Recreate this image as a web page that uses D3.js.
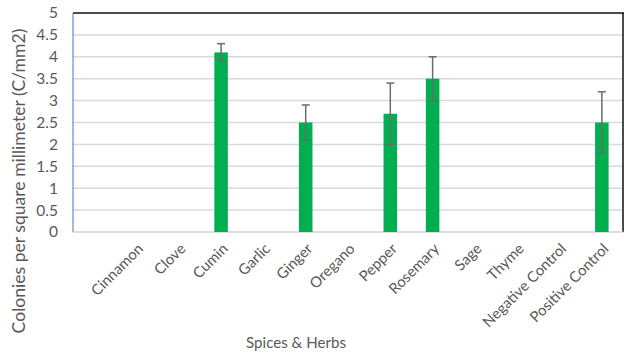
<!DOCTYPE html>
<html>
<head>
<meta charset="utf-8">
<script src="https://cdn.jsdelivr.net/npm/d3@7"></script>
<style>
  html, body { margin: 0; padding: 0; background: #fff; }
  svg { display: block; font-family: Lato, "Open Sans", sans-serif; }
</style>
</head>
<body>
<svg id="chart" width="624" height="355"></svg>
<script>
// Colony counts per spice/herb treatment
const categories = ["Cinnamon", "Clove", "Cumin", "Garlic", "Ginger", "Oregano",
  "Pepper", "Rosemary", "Sage", "Thyme", "Negative Control", "Positive Control"];
const values = [0, 0, 4.1, 0, 2.5, 0, 2.7, 3.5, 0, 0, 0, 2.5];
const errors = [0, 0, 0.2, 0, 0.4, 0, 0.7, 0.5, 0, 0, 0, 0.7];
const yTicks = [0, 0.5, 1, 1.5, 2, 2.5, 3, 3.5, 4, 4.5, 5];

const svg = d3.select("#chart");
const m = { left: 73, right: 623, top: 13, bottom: 232 };

// scale a text's font size so its rendered length hits a target width
function fitFont(sel, base, target) {
  sel.style("font-size", base + "px");
  const len = sel.node().getComputedTextLength();
  const size = base * target / len;
  sel.style("font-size", size + "px");
  return size;
}

// a blank leading slot keeps the first category one band in from the axis
const x = d3.scaleBand()
  .domain(["__blank__", ...categories])
  .range([m.left, m.right])
  .paddingInner(0.68)
  .paddingOuter(0.34);

const y = d3.scaleLinear().domain([0, 5]).range([m.bottom, m.top]);

// gridlines
svg.append("g")
  .selectAll("line")
  .data(yTicks.filter(d => d > 0 && d < 5))
  .join("line")
  .attr("x1", m.left).attr("x2", m.right)
  .attr("y1", d => y(d)).attr("y2", d => y(d))
  .attr("stroke", "#d9d9d9").attr("stroke-width", 1.5);

// frame: black top/right, blue left, grey baseline
svg.append("line").attr("x1", m.left).attr("x2", m.right + 1)
  .attr("y1", m.top).attr("y2", m.top).attr("stroke", "#111").attr("stroke-width", 1.5);
svg.append("line").attr("x1", m.right).attr("x2", m.right)
  .attr("y1", m.top).attr("y2", m.bottom).attr("stroke", "#111").attr("stroke-width", 1.5);
svg.append("line").attr("x1", m.left).attr("x2", m.left)
  .attr("y1", m.top).attr("y2", m.bottom).attr("stroke", "#4472c4").attr("stroke-width", 1);
svg.append("line").attr("x1", m.left).attr("x2", m.right)
  .attr("y1", m.bottom).attr("y2", m.bottom).attr("stroke", "#d0d0d0").attr("stroke-width", 1.5);

// y axis labels
const yAxis = d3.axisLeft(y).tickValues(yTicks).tickSize(0).tickPadding(15)
  .tickFormat(d3.format("~g"));
const gy = svg.append("g").attr("transform", `translate(${m.left},0)`).call(yAxis);
gy.select(".domain").remove();
gy.selectAll("text").attr("fill", "#595959").style("font-size", "15.5px")
  .style("font-family", "Lato, 'Open Sans', sans-serif");

// bars
const rows = categories.map((c, i) => ({ c, v: values[i], e: errors[i] }));
svg.append("g")
  .selectAll("rect")
  .data(rows.filter(d => d.v > 0))
  .join("rect")
  .attr("x", d => x(d.c))
  .attr("width", x.bandwidth())
  .attr("y", d => y(d.v))
  .attr("height", d => y(0) - y(d.v))
  .attr("fill", "#00b050");

// error bars
const eb = svg.append("g").attr("stroke", "#6b6b6b").attr("stroke-width", 1.5)
  .selectAll("g")
  .data(rows.filter(d => d.e > 0))
  .join("g")
  .attr("transform", d => `translate(${x(d.c) + x.bandwidth() / 2},0)`);
eb.append("line").attr("y1", d => y(d.v + d.e)).attr("y2", d => y(d.v - d.e));
eb.append("line").attr("x1", -4).attr("x2", 4)
  .attr("y1", d => y(d.v + d.e)).attr("y2", d => y(d.v + d.e));
eb.append("line").attr("x1", -4).attr("x2", 4)
  .attr("y1", d => y(d.v - d.e)).attr("y2", d => y(d.v - d.e));

// category labels, rotated
const labels = svg.append("g")
  .selectAll("text")
  .data(categories)
  .join("text")
  .attr("transform", d => `translate(${x(d) + x.bandwidth() / 2 + 4},${m.bottom + 14}) rotate(-45)`)
  .attr("text-anchor", "end")
  .attr("dy", "0.35em")
  .attr("fill", "#595959")
  .text(d => d);
const catSize = fitFont(labels.filter(d => d === "Positive Control"), 16, 104);
labels.style("font-size", catSize + "px");

// axis titles
const xt = svg.append("text")
  .attr("x", 296).attr("y", 348)
  .attr("text-anchor", "middle")
  .attr("fill", "#595959")
  .text("Spices & Herbs");
fitFont(xt, 16, 100);

const yt = svg.append("text")
  .attr("transform", "translate(25,181) rotate(-90)")
  .attr("text-anchor", "middle")
  .attr("fill", "#595959")
  .text("Colonies per square millimeter (C/mm2)");
fitFont(yt, 16, 305);
</script>
</body>
</html>
